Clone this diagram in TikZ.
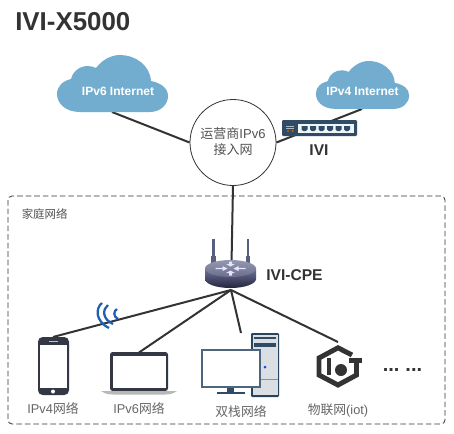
\documentclass[tikz,border=0pt]{standalone}
\usepackage{fontspec}
\setmainfont{Liberation Sans}
\newfontfamily\cjk{Noto Sans CJK SC}
\definecolor{cloudblue}{HTML}{72ADCF}
\definecolor{inkdark}{HTML}{333333}
\definecolor{labelgray}{HTML}{666666}
\definecolor{swnavy}{HTML}{2F4B66}
\definecolor{devdark}{HTML}{333844}
\definecolor{wifiblue}{HTML}{1F5FB4}
\definecolor{antenna}{HTML}{5A5F80}
\definecolor{rtop}{HTML}{9598B0}
\definecolor{rtopb}{HTML}{6A6E8C}
\definecolor{rbody}{HTML}{70749A}
\definecolor{rbodyb}{HTML}{23263C}
\tikzset{
  link/.style={draw=inkdark,line width=1.5pt},
  wave/.style={draw=wifiblue,line width=1.7pt},
  cloudtxt/.style={text=white,font=\fontsize{9}{10}\selectfont\bfseries,inner sep=0pt},
  devlabel/.style={text=labelgray,font=\fontsize{9.6}{11}\selectfont,inner sep=0pt},
  boldlabel/.style={text=inkdark,font=\fontsize{11.7}{13}\selectfont\bfseries,inner sep=0pt},
  pics/cloudshape/.style={code={
    \fill[cloudblue] (80,112) .. controls (65,112) and (57,103) .. (57,94)
      .. controls (57,86) and (63,81) .. (71,79)
      .. controls (73,71) and (80,66) .. (88,66)
      .. controls (91,66) and (94,67) .. (96,68)
      .. controls (102,60) and (111,55) .. (120,55)
      .. controls (135,55) and (150,65) .. (151,81)
      .. controls (161,83) and (168,88) .. (168,96)
      .. controls (168,105) and (160,112) .. (150,112) -- cycle;
  }}
}
\begin{document}
\begin{tikzpicture}[x=0.75pt,y=-0.75pt]
\useasboundingbox (0,0) rectangle (454,433);
\fill[white] (0,0) rectangle (454,433);
% title
\node[anchor=west,text=inkdark,inner sep=0pt,font=\fontsize{19.4}{21}\selectfont\bfseries] (title) at (15,22) {IVI-X5000};
% clouds
\coordinate (c6) at (112,112);
\coordinate (c4) at (362,109);
\node[circle,minimum size=64.5pt,inner sep=0pt,draw=inkdark,line width=0.6pt,fill=white] (isp) at (233,142.5) {};
\draw[link] (c6) -- (isp.west);
\draw[link] (c4) -- (isp.east);
\pic at (0,0) {cloudshape};
\begin{scope}[shift={(268,14.8)},scale=0.84]
\pic[transform shape] at (0,0) {cloudshape};
\end{scope}
\node[cloudtxt] (t6) at (118,91) {IPv6 Internet};
\node[cloudtxt] (t4) at (362.5,91.5) {IPv4 Internet};
\node[text=inkdark!85,inner sep=0pt,align=center,font=\fontsize{9.75}{12.5}\selectfont] (ispt) at (233,141.5) {{\cjk 运营商}IPv6\\{\cjk 接入网}};
% switch
\fill[swnavy,rounded corners=0.8pt] (282,120) rectangle (357,136);
\fill[white!88!cloudblue] (298,124) rectangle (354,133);
\foreach \px in {304.5,313,321.5,330,338.5,347}{
  \fill[swnavy] (\px-3,126) -- (\px+3,126) -- (\px+3,129.5) -- (\px+1.2,131) -- (\px-1.2,131) -- (\px-3,129.5) -- cycle;
}
\fill[orange!80!black] (288,131) circle (1.2);
\fill[orange!80!black] (292.5,131) circle (1.2);
\draw[white!60!swnavy,line width=0.4pt] (286,126) -- (294,126) (286,128) -- (294,128);
\node[boldlabel] (ivi) at (319,150) {IVI};
% dashed box
\draw[inkdark,line width=0.6pt,dash pattern=on 4.2pt off 2.2pt,rounded corners=3pt] (8,196) rectangle (445,424);
\node[anchor=west,text=inkdark!85,inner sep=0pt,font=\fontsize{8.6}{10}\selectfont\cjk] (home) at (21.5,214) {家庭网络};
% connectors
\coordinate (r1) at (231.5,264);
\coordinate (rb) at (231,290);
\coordinate (phoneT) at (53,337);
\coordinate (lapT) at (139,352.5);
\coordinate (deskT) at (241,333);
\coordinate (iotT) at (338,342);
\draw[link] (isp.south) -- (r1);
\draw[link] (rb) -- (phoneT);
\draw[link] (rb) -- (lapT);
\draw[link] (rb) -- (deskT);
\draw[link] (rb) -- (iotT);
% router
\fill[antenna] (212,239) rectangle (214.5,262);
\fill[antenna] (246.5,239) rectangle (249,262);
\fill[antenna] (211,256) rectangle (215.5,264);
\fill[antenna] (245.5,256) rectangle (250,264);
\shade[top color=rbody,bottom color=rbodyb] (205,268.5) -- (205,279) arc[start angle=180,end angle=0,x radius=25.5,y radius=9] -- (256,268.5) -- cycle;
\shade[top color=rtop,bottom color=rtopb] (230.5,268.5) ellipse[x radius=25.5,y radius=8.5];
\foreach \sx/\sy in {1/0,-1/0}{
  \fill[white!90!blue] (230.5+\sx*3,268.5) -- (230.5+\sx*8,266) -- (230.5+\sx*8,267.8) -- (230.5+\sx*15,267.8) -- (230.5+\sx*15,269.2) -- (230.5+\sx*8,269.2) -- (230.5+\sx*8,271) -- cycle;
}
\fill[white!90!blue] (230.5,266.5) -- (226,264) -- (229,264) -- (229,261.5) -- (232,261.5) -- (232,264) -- (235,264) -- cycle;
\fill[white!90!blue] (230.5,270.5) -- (226,273) -- (229,273) -- (229,275.5) -- (232,275.5) -- (232,273) -- (235,273) -- cycle;
\node[boldlabel,anchor=west] (cpe) at (266,275.5) {IVI-CPE};
% wifi
\draw[wave] (102,303) .. controls (95.5,308) and (95,321) .. (109,328);
\draw[wave] (108,305) .. controls (102.5,309) and (102,319) .. (113,324);
\draw[wave] (117,309) .. controls (113.5,311) and (113,316.5) .. (118,319);
% phone
\fill[devdark,rounded corners=3.5pt] (38,337) rectangle (69,395);
\fill[white] (40,345) rectangle (67,388);
\fill[white] (53,391.5) circle (2);
\draw[white!70!devdark,line width=0.3pt] (49,341) -- (58,341);
% laptop
\fill[devdark,rounded corners=2pt] (110,352) rectangle (168,391);
\fill[white] (113,356) rectangle (166,388);
\fill[white!72!black] (101,391) -- (177,391) .. controls (172,394) and (170,394.5) .. (165,394.5) -- (113,394.5) .. controls (108,394.5) and (106,394) .. (101,391) -- cycle;
% desktop
\fill[swnavy!90!black,rounded corners=0.8pt] (251,333) rectangle (279,397);
\fill[white!82!swnavy] (252.5,335) rectangle (277.5,395);
\fill[swnavy] (254,336.5) rectangle (276,338.5);
\fill[swnavy] (254,343) rectangle (276,347);
\draw[swnavy!60!white,line width=0.4pt] (252.5,379) -- (277.5,379);
\fill[blue!70!cyan] (265,367) circle (1.5);
\fill[swnavy] (227,386) rectangle (234,392);
\fill[swnavy] (217,392) rectangle (245,393.5);
\draw[swnavy!85!white,line width=0.8pt,fill=white] (202,350) rectangle (260,387);
% iot
\draw[inkdark,line width=3.7pt,line join=miter] (352,355) -- (338,347.8) -- (319,358) -- (319,375) -- (338,385) -- (356.5,375) -- (356.5,360);
\fill[inkdark] (326.5,358) rectangle (331,375);
\fill[inkdark] (341,370) circle (6);
\fill[inkdark] (349,358) rectangle (362,363);
\fill[white] (349,363) rectangle (353.5,372);
% dots
\node[anchor=base west,inner sep=0pt,text=inkdark,font=\fontsize{15}{15}\selectfont\bfseries] (dots) at (382.5,371) {...\hspace{4.5pt}...};
% labels
\node[devlabel] (l1) at (53,409) {IPv4{\cjk 网络}};
\node[devlabel] (l2) at (139,409) {IPv6{\cjk 网络}};
\node[devlabel] (l3) at (241,412) {{\cjk 双栈网络}};
\node[devlabel] (l4) at (338,410) {{\cjk 物联网}(iot)};
\end{tikzpicture}
\end{document}
